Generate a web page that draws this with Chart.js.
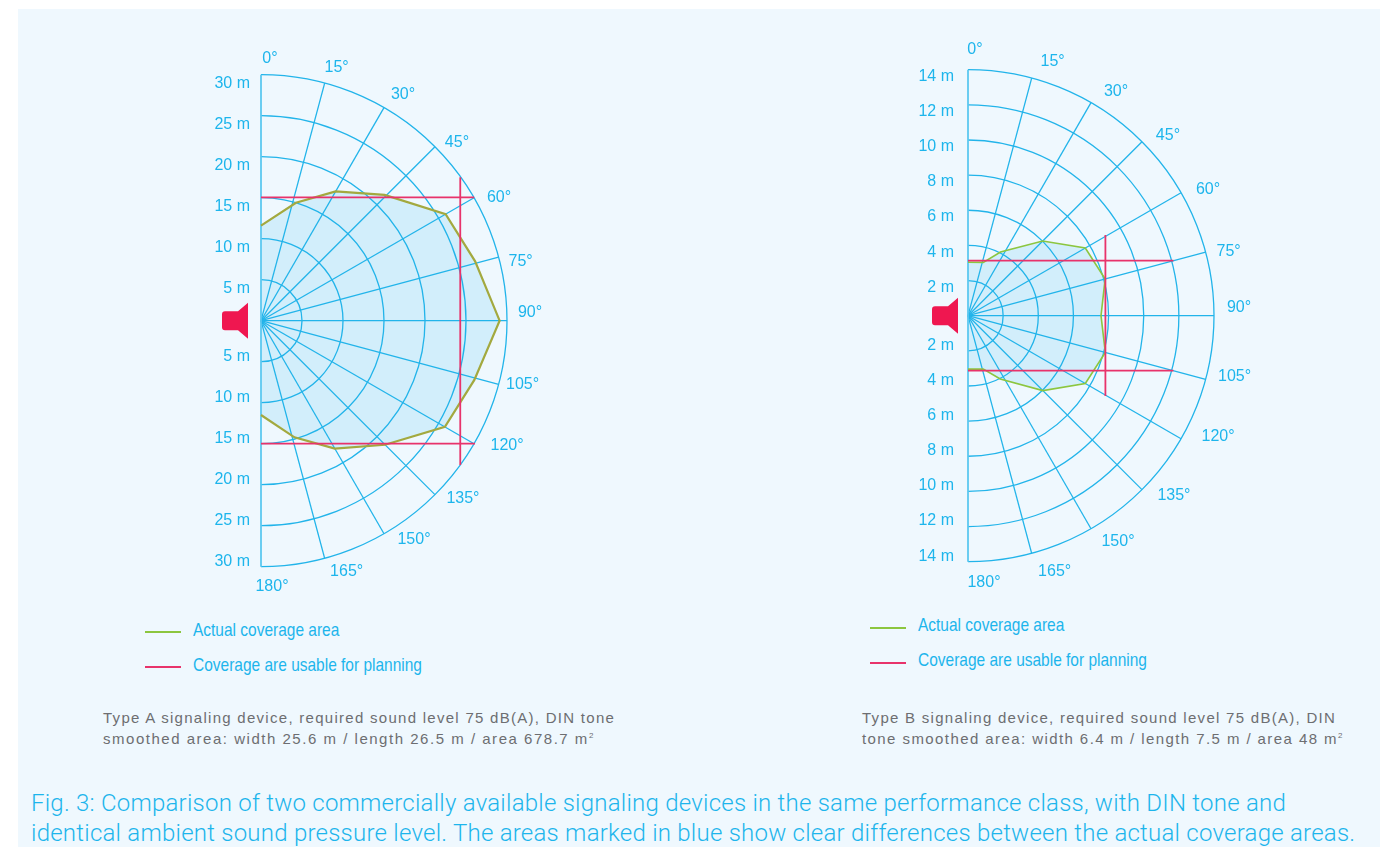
<!DOCTYPE html>
<html>
<head>
<meta charset="utf-8">
<script src="https://cdn.jsdelivr.net/npm/chart.js@4"></script>
<style>
html, body { margin: 0; padding: 0; background: #fff; overflow: hidden; }
#panel { position: absolute; left: 18px; top: 9px; width: 1362px; height: 838px; background: #eff8fe; }
canvas { position: absolute; }
.t { position: absolute; white-space: nowrap; }
.legend { color: #1db5ec; font: 19px/22px "Liberation Sans", sans-serif; transform: scaleX(0.815); transform-origin: left center; }
.swatch { position: absolute; height: 1.5px; width: 36px; }
.desc { color: #6d6e71; font: 15px/21px "Liberation Sans", sans-serif; letter-spacing: 1.28px; }
.desc sup { font-size: 8px; line-height: 0; letter-spacing: 0; }
.cap { color: #1db5ec; font: 300 24px/30px Roboto, "Liberation Sans", sans-serif; letter-spacing: 0.24px; }
</style>
</head>
<body>
<div id="panel"></div>
<canvas id="chartA" width="400" height="570" style="left:190px;top:40px"></canvas>
<canvas id="chartB" width="400" height="570" style="left:900px;top:30px"></canvas>

<div id="texts"></div>

<script>
const angleTicks = [0, 15, 30, 45, 60, 75, 90, 105, 120, 135, 150, 165, 180];

// type A (angle in degrees, range in metres)
const ringsA = [5, 10, 15, 20, 25, 30];
const actualAnglesA = [0, 16.5, 30, 44.5, 60, 74.5, 90, 105.5, 120, 135, 150, 164, 180];
const actualRangeA = [11.6, 15.0, 18.2, 21.5, 26.0, 27.1, 29.1, 27.0, 25.9, 21.4, 18.0, 14.8, 11.5];
const usableTopA = [[0, 15.05], [26.0, 15.05]];
const usableBottomA = [[0, -15.0], [26.1, -15.0]];
const usableSideA = [[24.3, 17.5], [24.3, -17.6]];

// type B
const ringsB = [2, 4, 6, 8, 10, 12, 14];
const actualAnglesB = [0, 16, 27, 45, 60, 75, 90, 105, 120, 135, 153, 164, 180];
const actualRangeB = [3.04, 3.16, 4.07, 6.01, 7.71, 8.08, 7.57, 8.09, 7.71, 6.03, 4.04, 3.16, 3.04];
const usableTopB = [[0, 3.13], [11.69, 3.13]];
const usableBottomB = [[0, -3.13], [11.69, -3.13]];
const usableSideB = [[7.82, 4.59], [7.82, -4.57]];

const legendLabels = ['Actual coverage area', 'Coverage are usable for planning'];
const descA = ['Type A signaling device, required sound level 75 dB(A), DIN tone',
               'smoothed area: width 25.6 m / length 26.5 m / area 678.7 m<sup>2</sup>'];
const descB = ['Type B signaling device, required sound level 75 dB(A), DIN',
               'tone smoothed area: width 6.4 m / length 7.5 m / area 48 m<sup>2</sup>'];
const caption = ['Fig. 3: Comparison of two commercially available signaling devices in the same performance class, with DIN tone and',
                 'identical ambient sound pressure level. The areas marked in blue show clear differences between the actual coverage areas.'];

// label nudges in px, relative to the end of each spoke
const angleNudgeA = [[9,-16],[12,-15],[19,-13],[22,-4],[25,0],[22,5],[23,-8],[24,0],[33,2],[28,4],[30,6],[22,13],[11,20]];
const angleNudgeB = [[7,-20],[21,-16],[25,-11],[26,-6],[27,-3],[23,0],[25,-8],[29,-3],[37,-2],[32,6],[27,13],[23,18],[16,21]];

const cyan = '#1db5ec';
const gridColor = '#22b4ea';

function polar(angle, r) {
	const a = angle * Math.PI / 180;
	return { x: r * Math.sin(a), y: r * Math.cos(a) };
}

const polarGrid = {
	id: 'polarGrid',
	// runs after the area fill, before the outline of the same dataset
	beforeDatasetDraw(chart, args, opts) {
		if (args.index !== 0) return;
		const ctx = chart.ctx, sx = chart.scales.x, sy = chart.scales.y;
		const cx = sx.getPixelForValue(0), cy = sy.getPixelForValue(0);
		const radius = r => sx.getPixelForValue(r) - cx;
		const rMax = opts.rings[opts.rings.length - 1];
		ctx.save();
		ctx.strokeStyle = gridColor;
		ctx.lineWidth = 1.3;
		opts.rings.forEach(r => {
			ctx.beginPath();
			ctx.arc(cx, cy, radius(r), -Math.PI / 2, Math.PI / 2);
			ctx.stroke();
		});
		angleTicks.forEach(a => {
			if (a === 0 || a === 180) return;
			const p = polar(a, rMax);
			ctx.beginPath();
			ctx.moveTo(cx, cy);
			ctx.lineTo(sx.getPixelForValue(p.x), sy.getPixelForValue(p.y));
			ctx.stroke();
		});
		ctx.strokeStyle = '#5cc8f0';
		ctx.lineWidth = 1.8;
		ctx.beginPath();
		ctx.moveTo(cx, sy.getPixelForValue(rMax));
		ctx.lineTo(cx, sy.getPixelForValue(-rMax));
		ctx.stroke();
		ctx.restore();
	},
	afterDraw(chart, args, opts) {
		const ctx = chart.ctx, sx = chart.scales.x, sy = chart.scales.y;
		const cx = sx.getPixelForValue(0), cy = sy.getPixelForValue(0);
		const rMax = opts.rings[opts.rings.length - 1];
		ctx.save();
		ctx.fillStyle = cyan;
		ctx.font = '16px "Liberation Sans", sans-serif';
		ctx.textBaseline = 'middle';
		ctx.textAlign = 'center';
		angleTicks.forEach((a, i) => {
			const p = polar(a, rMax);
			ctx.fillText(a + '°', sx.getPixelForValue(p.x) + opts.angleNudge[i][0], sy.getPixelForValue(p.y) + opts.angleNudge[i][1]);
		});
		ctx.textAlign = 'right';
		opts.rings.forEach(r => {
			ctx.fillText(r + ' m', cx + opts.tickX, sy.getPixelForValue(r) + opts.tickUp);
			ctx.fillText(r + ' m', cx + opts.tickX, sy.getPixelForValue(-r) + opts.tickDown);
		});
		// horn symbol
		const ox = cx + opts.hornX;
		ctx.fillStyle = '#ef1750';
		ctx.beginPath();
		ctx.moveTo(ox + 3, cy - 9.5);
		ctx.lineTo(ox + 16, cy - 9.5);
		ctx.lineTo(ox + 26, cy - 18);
		ctx.lineTo(ox + 26, cy + 18);
		ctx.lineTo(ox + 16, cy + 9.5);
		ctx.lineTo(ox + 3, cy + 9.5);
		ctx.quadraticCurveTo(ox, cy + 9.5, ox, cy + 6.5);
		ctx.lineTo(ox, cy - 6.5);
		ctx.quadraticCurveTo(ox, cy - 9.5, ox + 3, cy - 9.5);
		ctx.fill();
		ctx.restore();
	}
};

function makeChart(id, left, top, cx, cy, pxPerM, cfg) {
	const el = document.getElementById(id);
	const pts = cfg.angles.map((a, i) => polar(a, cfg.range[i]));
	const toLine = seg => seg.map(p => ({ x: p[0], y: p[1] }));
	const redLine = seg => ({
		data: toLine(seg), showLine: true, pointRadius: 0, order: 1,
		borderColor: '#e8336b', borderWidth: 1.8
	});
	new Chart(el, {
		type: 'scatter',
		data: {
			datasets: [
				{ data: pts, showLine: true, pointRadius: 0, order: 2, fill: 'shape',
				  backgroundColor: '#d2eefb', borderColor: cfg.green, borderWidth: cfg.greenWidth },
				redLine(cfg.top), redLine(cfg.bottom), redLine(cfg.side)
			]
		},
		options: {
			responsive: false,
			animation: false,
			events: [],
			layout: { padding: 0 },
			scales: {
				x: { display: false, min: (left - cx) / pxPerM, max: (left + el.width - cx) / pxPerM },
				y: { display: false, min: (cy - top - el.height) / pxPerM, max: (cy - top) / pxPerM }
			},
			plugins: {
				legend: { display: false },
				tooltip: { enabled: false },
				polarGrid: cfg.grid
			}
		},
		plugins: [polarGrid]
	});
}

makeChart('chartA', 190, 40, 261, 320.7, 246 / 30, {
	angles: actualAnglesA, range: actualRangeA, top: usableTopA, bottom: usableBottomA, side: usableSideA,
	green: '#a3a93f', greenWidth: 2.2,
	grid: { rings: ringsA, angleNudge: angleNudgeA, tickX: -11, tickUp: 8.8, tickDown: -4.8, hornX: -39 }
});
makeChart('chartB', 900, 30, 968, 315.7, 246 / 14, {
	angles: actualAnglesB, range: actualRangeB, top: usableTopB, bottom: usableBottomB, side: usableSideB,
	green: '#8cc63f', greenWidth: 1.6,
	grid: { rings: ringsB, angleNudge: angleNudgeB, tickX: -14, tickUp: 6.8, tickDown: -5.5, hornX: -36 }
});

// html texts below the charts
const box = document.getElementById('texts');
function addText(cls, x, y, html, spacing) {
	const d = document.createElement('div');
	d.className = 't ' + cls;
	d.style.left = x + 'px';
	d.style.top = y + 'px';
	if (spacing) d.style.letterSpacing = spacing + 'px';
	d.innerHTML = html;
	box.appendChild(d);
}
function addSwatch(x, y, color) {
	const d = document.createElement('div');
	d.className = 'swatch';
	d.style.cssText = 'left:' + x + 'px;top:' + y + 'px;background:' + color;
	box.appendChild(d);
}
addSwatch(145, 631, '#8cc63f');
addSwatch(145, 666, '#e8336b');
addSwatch(870, 627, '#8cc63f');
addSwatch(870, 662, '#e8336b');
addText('legend', 193, 619, legendLabels[0]);
addText('legend', 193, 654, legendLabels[1]);
addText('legend', 918, 614, legendLabels[0]);
addText('legend', 918, 649, legendLabels[1]);
addText('desc', 103, 707, descA[0]);
addText('desc', 103, 728, descA[1], 1.52);
addText('desc', 862, 707, descB[0]);
addText('desc', 862, 728, descB[1], 1.42);
addText('cap', 31, 788, caption[0]);
addText('cap', 31, 818, caption[1]);
</script>
</body>
</html>
